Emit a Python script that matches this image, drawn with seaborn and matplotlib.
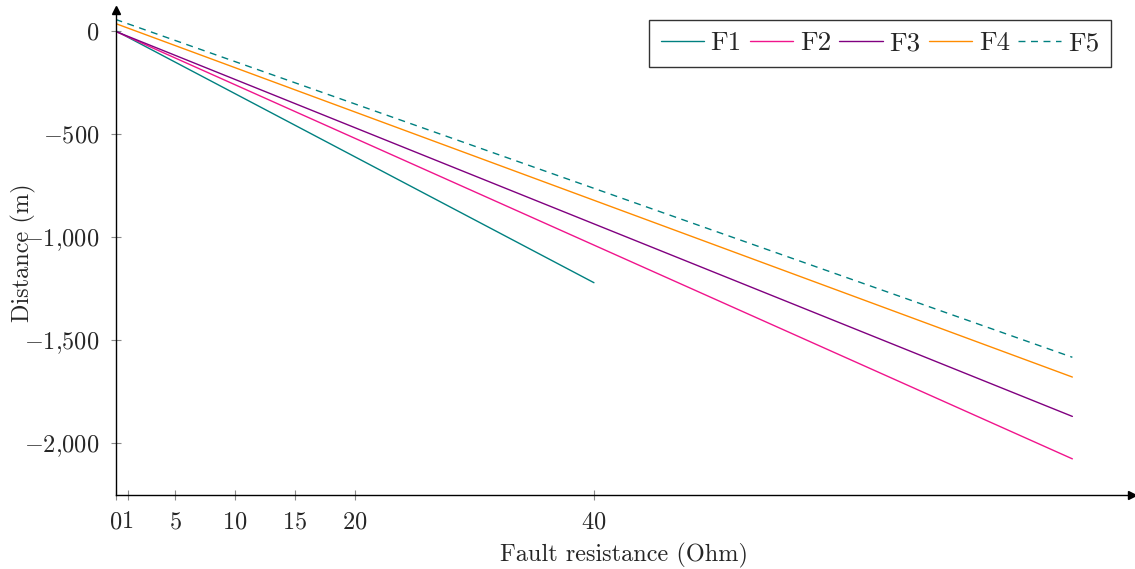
import numpy as np
import pandas as pd
import matplotlib
matplotlib.use("Agg")
import matplotlib.pyplot as plt
from matplotlib.ticker import FuncFormatter
import seaborn as sns

# ==========================================================
# DATA
# ==========================================================

series = ["F1", "F2", "F3", "F4", "F5"]
x_start = [0, 0, 0, 0, 0]
x_end = [40, 80, 80, 80, 80]
y_start = [0, -3, -3, 35, 55]
y_end = [-1223, -2078, -1872, -1681, -1585]

colors = {"F1": "#008080", "F2": "#F0148C", "F3": "#800080",
          "F4": "#FF8C00", "F5": "#008080"}
dashes = {"F1": "", "F2": "", "F3": "", "F4": "", "F5": (5, 4)}

x_ticks = [0, 1, 5, 10, 15, 20, 40]
y_ticks = [0, -500, -1000, -1500, -2000]

rows = []
for name, xs, xe, ys, ye in zip(series, x_start, x_end, y_start, y_end):
    rows.append({"R": xs, "D": ys, "Fault": name})
    rows.append({"R": xe, "D": ye, "Fault": name})
df = pd.DataFrame(rows)

# ==========================================================
# STYLE
# ==========================================================

sns.set_style("ticks")
plt.rcParams["font.family"] = ["cmr10", "DejaVu Serif"]
plt.rcParams["mathtext.fontset"] = "cm"
plt.rcParams["axes.unicode_minus"] = False
plt.rcParams["axes.formatter.use_mathtext"] = True

fig = plt.figure(figsize=(11.35, 5.69), dpi=100)
ax = fig.add_axes([0.1018, 0.1295, 0.8957, 0.8527])

sns.lineplot(data=df, x="R", y="D", hue="Fault", style="Fault",
             palette=colors, dashes=dashes, linewidth=1.0,
             sort=False, ax=ax)

ax.set_xlim(0, 85)
ax.set_ylim(-2255, 100)

ax.set_xticks(x_ticks)
ax.set_yticks(y_ticks)


def fmt_y(v, pos):
    v = int(round(v))
    if v == 0:
        return r"$0$"
    s = "{:,}".format(abs(v)).replace(",", "{,}")
    return r"$-%s$" % s if v < 0 else r"$%s$" % s


ax.xaxis.set_major_formatter(FuncFormatter(lambda v, p: r"$%d$" % v))
ax.yaxis.set_major_formatter(FuncFormatter(fmt_y))
ax.tick_params(direction="inout", length=7, width=0.8, color="#8a8a8a",
               labelsize=17.5, pad=8)

for side in ["top", "right"]:
    ax.spines[side].set_visible(False)
for side in ["left", "bottom"]:
    ax.spines[side].set_color("black")
    ax.spines[side].set_linewidth(1.0)

# arrow heads on the axis lines
ax.plot(1, 0, ">k", markersize=6, transform=ax.transAxes, clip_on=False)
ax.plot(0, 1, "^k", markersize=6, transform=ax.transAxes, clip_on=False)

ax.set_xlabel("Fault resistance (Ohm)", fontsize=17.5, va="center")
ax.set_ylabel("Distance (m)", fontsize=17.5, va="center")
ax.xaxis.set_label_coords(0.5, -0.123)
ax.yaxis.set_label_coords(-0.091, 0.5)

handles, labels = ax.get_legend_handles_labels()
leg = ax.legend(handles, labels, loc="upper right", ncol=5,
                bbox_to_anchor=(0.979, 0.98), fontsize=19.5,
                frameon=True, fancybox=False, edgecolor="black",
                handlelength=1.6, handletextpad=0.25, columnspacing=0.3,
                borderpad=0.42, borderaxespad=0)
leg.get_frame().set_linewidth(1.0)

plt.savefig("out.png", dpi=100)
